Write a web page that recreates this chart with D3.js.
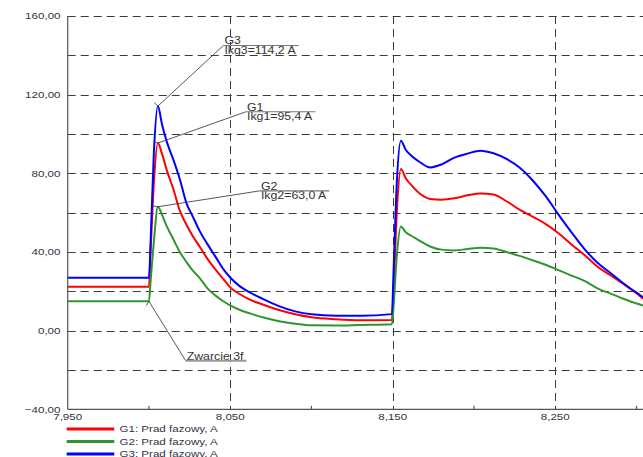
<!DOCTYPE html>
<html>
<head>
<meta charset="utf-8">
<script src="https://cdn.jsdelivr.net/npm/d3@7"></script>
<style>
  body { margin: 0; background: #fff; }
  svg { display: block; }
  text { font-family: "Liberation Sans", Arial, sans-serif; }
</style>
</head>
<body>
<svg id="chart" width="643" height="457"></svg>
<script>
// Time axis (s) shared by all three traces
const times = [
  7.950, 8.000, 8.001, 8.003, 8.0055, 8.008, 8.011, 8.015, 8.019, 8.023,
  8.027, 8.031, 8.036, 8.041, 8.046, 8.050, 8.056, 8.062, 8.070, 8.080,
  8.090, 8.100, 8.115, 8.130, 8.1495, 8.1505, 8.1525, 8.155, 8.158, 8.162,
  8.167, 8.173, 8.180, 8.188, 8.196, 8.204, 8.212, 8.220, 8.228, 8.236,
  8.244, 8.252, 8.260, 8.268, 8.276, 8.284, 8.292, 8.300, 8.304
];

// Phase current, A
const g1Current = [
  22.3, 22.3, 40, 75, 95.4, 90, 81.5, 72, 61, 54,
  48, 43, 36.5, 31, 26, 22, 18.5, 15.8, 13.3, 10.5,
  8.3, 6.8, 5.8, 5.3, 5.4, 20, 60, 82.2, 77.5, 73.5,
  69.5, 67, 66.6, 67.3, 68.8, 69.8, 69.2, 65.8, 61.5, 58,
  54.3, 49.5, 43.8, 38.5, 32.5, 28.2, 23.8, 19, 16.2
];
const g2Current = [
  14.9, 14.9, 25, 45, 63.0, 59, 53, 46.5, 40, 35,
  30.5, 27, 21.5, 17.8, 14.8, 12.8, 10.5, 8.8, 6.8, 4.8,
  3.5, 2.7, 2.6, 2.9, 3.3, 12, 38, 53, 50, 48,
  45.5, 42.8, 41.2, 40.8, 41.5, 42.1, 41.8, 40, 38, 35.8,
  33.5, 30.8, 28, 25.3, 21.5, 18.8, 16.2, 13.8, 12.8
];
const g3Current = [
  26.9, 26.9, 45, 90, 114.2, 105, 96, 87, 77, 65,
  58, 51, 44, 37.5, 31, 27, 22.5, 19.5, 16.2, 12.5,
  9.8, 8.3, 7.6, 7.6, 8.4, 30, 75, 96.6, 92, 88.5,
  85.5, 83, 84.5, 88, 90, 91.5, 90.2, 87.3, 83, 76.5,
  68.5, 59, 50, 41.5, 34.5, 29.3, 24, 19.3, 17
];

const seriesNames = ["G1: Prad fazowy, A", "G2: Prad fazowy, A", "G3: Prad fazowy, A"];
const peakNames = ["G1", "G2", "G3"];
const xLabelTicks = [7.95, 8.05, 8.15, 8.25];
const xMinorTicks = [8.00, 8.10, 8.20, 8.30];
const yLabelTicks = [-40, 0, 40, 80, 120, 160];
const yGridTicks = [-20, 0, 20, 40, 60, 80, 100, 120, 140, 160];
const faultTime = 8.000;
const faultText = "Zwarcie 3f";

// ---- styling / layout ----
const colors = ["#ff0000", "#2f962f", "#0000ff"];
const W = 643, H = 457;
const plot = { left: 67.7, right: 643, top: 16, bottom: 409.3 };
const FONT = 9.5, STRETCH = 1.22;   // text is drawn slightly wide
// callout elbow positions in data units (t, A)
const peakCalloutAt = [[8.0597, 111.3], [8.0683, 71.1], [8.0458, 145.0]];
const faultCalloutAt = [8.0226, -15.3];

const locale = d3.formatLocale({ decimal: ",", thousands: " ", grouping: [3], currency: ["", ""] });
const fmtY = locale.format(".2f");
const fmtX = locale.format(".3f");
const fmtPeak = locale.format(".1f");

const series = [g1Current, g2Current, g3Current].map((vals, i) => ({
  name: seriesNames[i], color: colors[i],
  points: times.map((t, k) => ({ t, v: vals[k] }))
}));

const x = d3.scaleLinear().domain([7.95, 8.304]).range([plot.left, plot.right]);
const y = d3.scaleLinear().domain([-40, 160]).range([plot.bottom, plot.top]);

const svg = d3.select("#chart");
svg.append("rect").attr("width", W).attr("height", H).attr("fill", "#fff");

function at(px, py) { return `translate(${px},${py}) scale(${STRETCH},1)`; }

// dashed grid
const grid = svg.append("g").attr("stroke", "#3a3a3a").attr("stroke-width", 1)
  .attr("stroke-dasharray", "8,5").attr("fill", "none");
grid.selectAll("line.h").data(yGridTicks).join("line").attr("class", "h")
  .attr("x1", plot.left).attr("x2", plot.right)
  .attr("y1", d => Math.round(y(d)) + 0.5).attr("y2", d => Math.round(y(d)) + 0.5);
grid.selectAll("line.v").data(xLabelTicks.filter(d => d > 7.95)).join("line").attr("class", "v")
  .attr("y1", plot.top).attr("y2", plot.bottom)
  .attr("x1", d => Math.round(x(d)) + 0.5).attr("x2", d => Math.round(x(d)) + 0.5);

// traces
const line = d3.line().x(d => x(d.t)).y(d => y(d.v)).curve(d3.curveMonotoneX);
svg.append("g").selectAll("path").data(series).join("path")
  .attr("d", d => line(d.points))
  .attr("fill", "none").attr("stroke", d => d.color)
  .attr("stroke-width", 2).attr("stroke-linejoin", "round");

// axes
const axes = svg.append("g").attr("stroke", "#555").attr("stroke-width", 1.2);
axes.append("line").attr("x1", plot.left).attr("x2", plot.left).attr("y1", plot.top).attr("y2", plot.bottom);
axes.append("line").attr("x1", plot.left).attr("x2", plot.right).attr("y1", plot.bottom).attr("y2", plot.bottom);
axes.selectAll("line.minor").data(xMinorTicks).join("line").attr("class", "minor")
  .attr("x1", d => x(d)).attr("x2", d => x(d)).attr("y1", plot.bottom - 3.5).attr("y2", plot.bottom);

const labelColor = "#333344";
svg.append("g").selectAll("text").data(yLabelTicks).join("text")
  .attr("transform", d => at(60.5, y(d) + 3.3))
  .attr("text-anchor", "end").attr("font-size", FONT).attr("fill", labelColor)
  .text(d => fmtY(d));
svg.append("g").selectAll("text").data(xLabelTicks).join("text")
  .attr("transform", d => at(x(d), 420))
  .attr("text-anchor", "middle").attr("font-size", FONT).attr("fill", labelColor)
  .text(d => fmtX(d));

// callouts
const notes = svg.append("g");
function callout(anchor, elbow, top, bottom, underlineColor, underlineWidth) {
  const [ax, ay] = anchor;
  const [ex, ey] = elbow;
  const g = notes.append("g");
  // short reflected tick at the anchor point
  const dx = ex - ax, dy = ey - ay, len = Math.hypot(dx, dy);
  g.append("line").attr("x1", ax).attr("y1", ay)
    .attr("x2", ax - dx / len * 5).attr("y2", ay + dy / len * 5)
    .attr("stroke", "#444").attr("stroke-width", 0.9);
  g.append("line").attr("x1", ax).attr("y1", ay).attr("x2", ex).attr("y2", ey)
    .attr("stroke", "#444").attr("stroke-width", 0.9);
  const tTop = g.append("text").attr("transform", at(ex + 1, ey - 1))
    .attr("font-size", FONT + 0.6).attr("fill", "#333").text(top);
  let w = tTop.node().getComputedTextLength();
  if (bottom) {
    const tBot = g.append("text").attr("transform", at(ex + 1, ey + 8.6))
      .attr("font-size", FONT + 0.6).attr("fill", "#333").text(bottom);
    w = Math.max(w, tBot.node().getComputedTextLength());
  }
  g.append("line").attr("x1", ex).attr("x2", ex + w * STRETCH + 4).attr("y1", ey).attr("y2", ey)
    .attr("stroke", underlineColor).attr("stroke-width", underlineWidth);
}

series.forEach((s, i) => {
  const firstEvent = s.points.filter(p => p.t < 8.1);
  const peak = firstEvent.reduce((a, b) => (b.v > a.v ? b : a));
  const [ct, cv] = peakCalloutAt[i];
  callout([x(peak.t), y(peak.v)], [x(ct), y(cv)], peakNames[i],
    `Ikg${i + 1}=${fmtPeak(peak.v)} A`, "#777", 1.2);
});
{
  const k = times.indexOf(faultTime);
  callout([x(faultTime), y(g2Current[k])], [x(faultCalloutAt[0]), y(faultCalloutAt[1])],
    faultText, null, "#999", 2);
}

// legend
const legend = svg.append("g").selectAll("g").data(series).join("g")
  .attr("transform", (d, i) => `translate(0, ${429 + i * 12.5})`);
legend.append("line").attr("x1", 66.7).attr("x2", 114.3).attr("y1", 0).attr("y2", 0)
  .attr("stroke", d => d.color).attr("stroke-width", 3);
legend.append("text").attr("transform", at(119.5, 3.4))
  .attr("font-size", FONT).attr("fill", labelColor).text(d => d.name);
</script>
</body>
</html>
